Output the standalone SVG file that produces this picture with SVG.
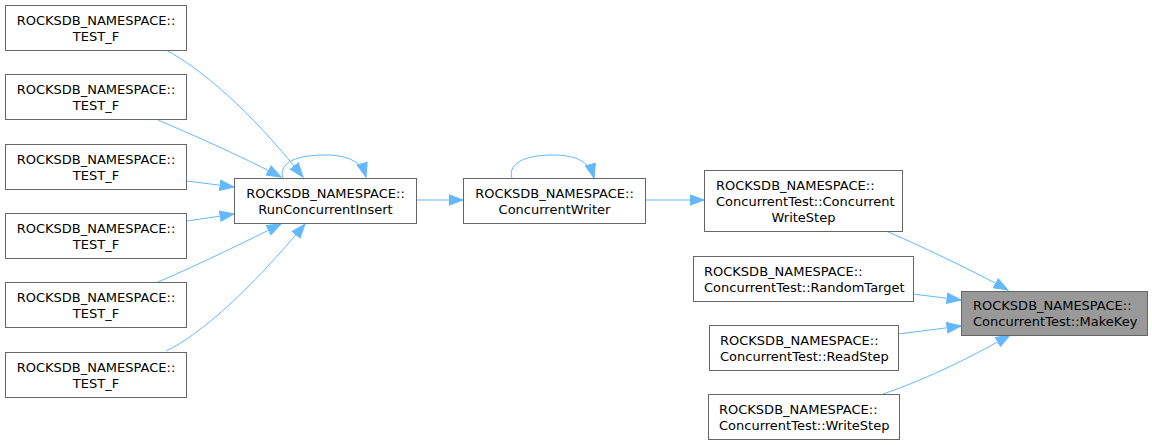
<svg xmlns="http://www.w3.org/2000/svg" width="1152" height="445" viewBox="0 0 1152 445">
<style>
.box{fill:#ffffff;stroke:#666666;stroke-width:1}
.hl{fill:#999999;stroke:#666666;stroke-width:1}
text{font-family:"DejaVu Sans","Liberation Sans",sans-serif;font-size:13px;fill:#000000}
.m{text-anchor:middle}
.s{text-anchor:start}
.e{fill:none;stroke:#63b8ff;stroke-width:1}
</style>
<defs>
<marker id="arr" markerUnits="userSpaceOnUse" markerWidth="16" markerHeight="12" refX="14.5" refY="6" orient="auto">
<path d="M0.5,0.8 L14.5,6 L0.5,11.2 z" fill="#63b8ff" stroke="#63b8ff" stroke-width="1"/>
</marker>
</defs>
<rect width="1152" height="445" fill="#ffffff"/>
<g id="connectors">
<path class="e" marker-end="url(#arr)" d="M166,50 C200,68 250,110 303,177"/>
<path class="e" marker-end="url(#arr)" d="M158,120 C200,138 245,158 281,177"/>
<path class="e" marker-end="url(#arr)" d="M187,181 L234,187"/>
<path class="e" marker-end="url(#arr)" d="M187,221 L234,214"/>
<path class="e" marker-end="url(#arr)" d="M158,282 C200,264 245,242 281,224"/>
<path class="e" marker-end="url(#arr)" d="M166,351 C200,335 250,290 305,224"/>
<path class="e" marker-end="url(#arr)" d="M283,178 C279,166 290,155 325,155 C350,155 362,163 366,177"/>
<path class="e" marker-end="url(#arr)" d="M416,200 L463,200"/>
<path class="e" marker-end="url(#arr)" d="M512,178 C508,166 520,155 553,155 C578,155 590,163 594,178"/>
<path class="e" marker-end="url(#arr)" d="M645,200 L704,200"/>
<path class="e" marker-end="url(#arr)" d="M886,231 C930,250 975,272 1008,290"/>
<path class="e" marker-end="url(#arr)" d="M913,294 L961,300"/>
<path class="e" marker-end="url(#arr)" d="M898,334 L961,326"/>
<path class="e" marker-end="url(#arr)" d="M883,394 C930,378 975,355 1010,335"/>
</g>
<g id="test_f_1"><rect class="box" x="5.5" y="5.5" width="181" height="45"/><text class="m" x="96" y="24.5">ROCKSDB_NAMESPACE::</text><text class="m" x="96" y="40.5">TEST_F</text></g>
<g id="test_f_2"><rect class="box" x="5.5" y="74.5" width="181" height="45"/><text class="m" x="96" y="93.5">ROCKSDB_NAMESPACE::</text><text class="m" x="96" y="109.5">TEST_F</text></g>
<g id="test_f_3"><rect class="box" x="5.5" y="144.5" width="181" height="45"/><text class="m" x="96" y="163.5">ROCKSDB_NAMESPACE::</text><text class="m" x="96" y="179.5">TEST_F</text></g>
<g id="test_f_4"><rect class="box" x="5.5" y="213.5" width="181" height="45"/><text class="m" x="96" y="232.5">ROCKSDB_NAMESPACE::</text><text class="m" x="96" y="248.5">TEST_F</text></g>
<g id="test_f_5"><rect class="box" x="5.5" y="282.5" width="181" height="45"/><text class="m" x="96" y="301.5">ROCKSDB_NAMESPACE::</text><text class="m" x="96" y="317.5">TEST_F</text></g>
<g id="test_f_6"><rect class="box" x="5.5" y="352.5" width="181" height="45"/><text class="m" x="96" y="371.5">ROCKSDB_NAMESPACE::</text><text class="m" x="96" y="387.5">TEST_F</text></g>
<g id="run_concurrent_insert"><rect class="box" x="234.5" y="178.5" width="182" height="45"/><text class="m" x="325.5" y="197.5">ROCKSDB_NAMESPACE::</text><text class="m" x="325.5" y="213.5">RunConcurrentInsert</text></g>
<g id="concurrent_writer"><rect class="box" x="463.5" y="178.5" width="182" height="45"/><text class="m" x="554.5" y="197.5">ROCKSDB_NAMESPACE::</text><text class="m" x="554.5" y="213.5">ConcurrentWriter</text></g>
<g id="concurrent_write_step"><rect class="box" x="704.5" y="170.5" width="198" height="61"/><text class="s" x="716" y="189.5">ROCKSDB_NAMESPACE::</text><text class="s" x="716" y="205.5">ConcurrentTest::Concurrent</text><text class="m" x="803.5" y="221.5">WriteStep</text></g>
<g id="random_target"><rect class="box" x="693.5" y="256.5" width="220" height="45"/><text class="s" x="704" y="275.5">ROCKSDB_NAMESPACE::</text><text class="s" x="704" y="291.5">ConcurrentTest::RandomTarget</text></g>
<g id="make_key"><rect class="hl" x="961.5" y="291.5" width="186" height="44"/><text class="s" x="973" y="310">ROCKSDB_NAMESPACE::</text><text class="s" x="973" y="326">ConcurrentTest::MakeKey</text></g>
<g id="read_step"><rect class="box" x="709.5" y="325.5" width="189" height="45"/><text class="s" x="720" y="344.5">ROCKSDB_NAMESPACE::</text><text class="s" x="720" y="360.5">ConcurrentTest::ReadStep</text></g>
<g id="write_step"><rect class="box" x="708.5" y="394.5" width="191" height="45"/><text class="s" x="719" y="413.5">ROCKSDB_NAMESPACE::</text><text class="s" x="719" y="429.5">ConcurrentTest::WriteStep</text></g>
</svg>
